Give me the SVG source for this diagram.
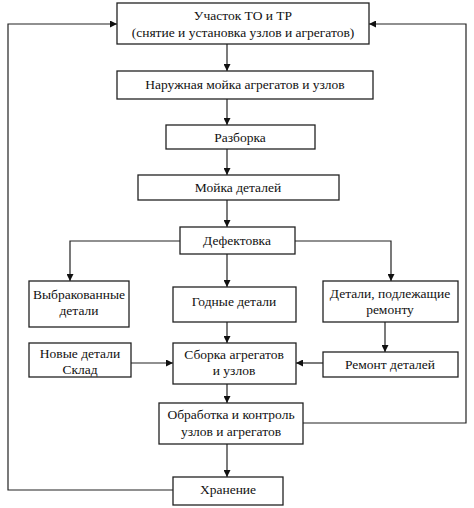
<svg xmlns="http://www.w3.org/2000/svg" width="474" height="508" viewBox="0 0 474 508">
<defs>
<marker id="ah" viewBox="0 0 10 10" refX="10" refY="5" markerWidth="7" markerHeight="7" markerUnits="userSpaceOnUse" orient="auto">
<path d="M0,0 L10,5 L0,10 z" fill="#111"/>
</marker>
<style>
rect{fill:#fff;stroke:#222;stroke-width:1.3}
text{font-family:"Liberation Serif","Times New Roman",serif;font-size:13.5px;fill:#111;text-anchor:middle}
.c path,.c line,.c polyline{fill:none;stroke:#222;stroke-width:1.2}
.a{marker-end:url(#ah)}
</style>
</defs>
<rect x="0" y="0" width="474" height="508" style="fill:#fff;stroke:none"/>
<g class="c" id="connectors">
<polyline class="a" points="173,490 8,490 8,24 117,24"/>
<polyline class="a" points="303,423 466,423 466,24 369,24"/>
<line class="a" x1="227" y1="44" x2="227" y2="71"/>
<line class="a" x1="227" y1="99" x2="227" y2="125"/>
<line class="a" x1="227" y1="149" x2="227" y2="175"/>
<line class="a" x1="227" y1="200" x2="227" y2="227"/>
<polyline class="a" points="180,241 70,241 70,281"/>
<line class="a" x1="227" y1="254" x2="227" y2="287"/>
<polyline class="a" points="295,241 391,241 391,281"/>
<line class="a" x1="227" y1="322" x2="227" y2="343"/>
<line class="a" x1="385" y1="322" x2="385" y2="352"/>
<line class="a" x1="131" y1="363" x2="173" y2="363"/>
<line class="a" x1="323" y1="363" x2="296" y2="363"/>
<line class="a" x1="227" y1="384" x2="227" y2="403"/>
<line class="a" x1="227" y1="444" x2="227" y2="477"/>
</g>
<g id="uchastok"><rect x="117" y="3" width="252" height="41"/><text x="243" y="20">Участок ТО и ТР</text><text x="243" y="37">(снятие и установка узлов и агрегатов)</text></g>
<g id="moika-naruzh"><rect x="117" y="71" width="256" height="28"/><text x="245" y="89">Наружная мойка агрегатов и узлов</text></g>
<g id="razborka"><rect x="166" y="125" width="149" height="24"/><text x="240" y="142">Разборка</text></g>
<g id="moika-detalei"><rect x="138" y="175" width="201" height="25"/><text x="238" y="192">Мойка деталей</text></g>
<g id="defektovka"><rect x="180" y="227" width="115" height="27"/><text x="237" y="245">Дефектовка</text></g>
<g id="vybrak"><rect x="29" y="281" width="100" height="46"/><text x="79" y="299">Выбракованные</text><text x="79" y="315">детали</text></g>
<g id="godnye"><rect x="173" y="287" width="123" height="35"/><text x="234" y="306">Годные детали</text></g>
<g id="podlezh"><rect x="323" y="281" width="135" height="41"/><text x="390" y="298">Детали, подлежащие</text><text x="390" y="314">ремонту</text></g>
<g id="novye"><rect x="29" y="343" width="102" height="34"/><text x="80" y="358">Новые детали</text><text x="80" y="374">Склад</text></g>
<g id="sborka"><rect x="173" y="343" width="123" height="41"/><text x="234" y="359">Сборка агрегатов</text><text x="234" y="375">и узлов</text></g>
<g id="remont"><rect x="323" y="352" width="135" height="25"/><text x="390" y="369">Ремонт деталей</text></g>
<g id="obrabotka"><rect x="159" y="403" width="144" height="41"/><text x="231" y="419">Обработка и контроль</text><text x="231" y="436">узлов и агрегатов</text></g>
<g id="hranenie"><rect x="173" y="477" width="110" height="28"/><text x="228" y="494">Хранение</text></g>
</svg>
